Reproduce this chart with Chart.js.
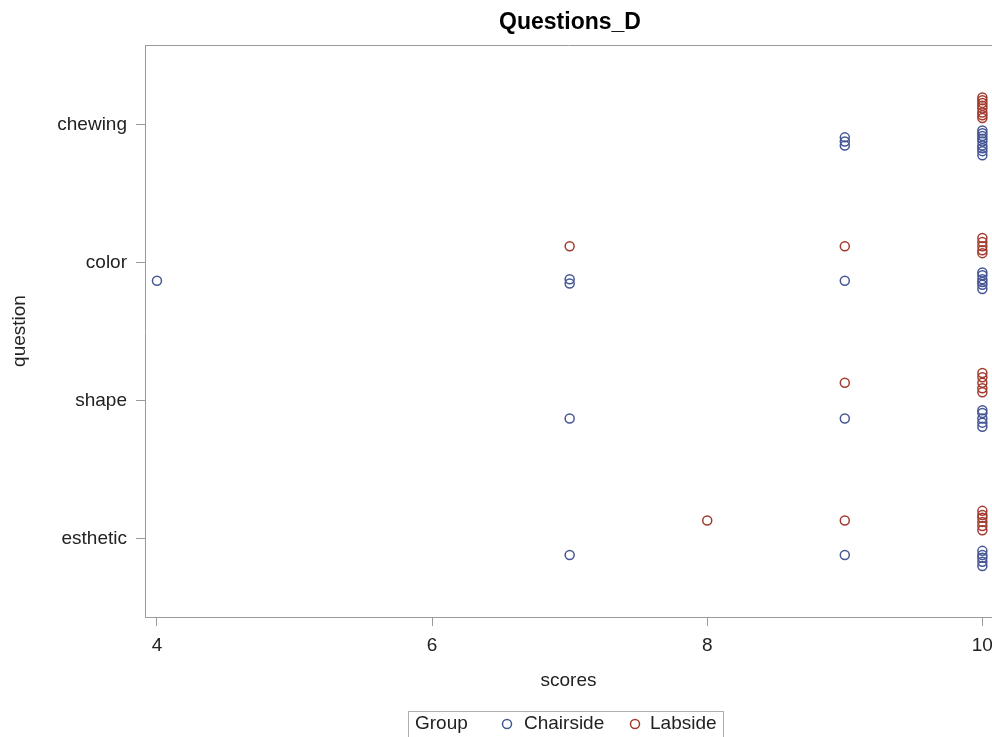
<!DOCTYPE html>
<html>
<head>
<meta charset="utf-8">
<script src="https://cdn.jsdelivr.net/npm/chart.js@4/dist/chart.umd.min.js"></script>
<style>
  html, body { margin: 0; padding: 0; background: #fff; overflow: hidden; }
  #wrap { width: 992px; height: 737px; overflow: hidden; }
</style>
</head>
<body>
<div id="wrap"><canvas id="myCanvas" width="998" height="737"></canvas></div>
<script>
"use strict";

var questions = ['chewing', 'color', 'shape', 'esthetic'];
var scoreTicks = [4, 6, 8, 10];

// Chairside: score, question, vertical jitter (in category units)
var chairScores = [10, 10, 10, 10, 10, 10, 10, 10, 10, 9, 9, 9,
                   4, 7, 7, 9, 10, 10, 10, 10, 10, 10,
                   7, 9, 10, 10, 10, 10, 10,
                   7, 9, 10, 10, 10, 10, 10];
var chairQuestion = ['chewing', 'chewing', 'chewing', 'chewing', 'chewing', 'chewing', 'chewing', 'chewing', 'chewing', 'chewing', 'chewing', 'chewing',
                     'color', 'color', 'color', 'color', 'color', 'color', 'color', 'color', 'color', 'color',
                     'shape', 'shape', 'shape', 'shape', 'shape', 'shape', 'shape',
                     'esthetic', 'esthetic', 'esthetic', 'esthetic', 'esthetic', 'esthetic', 'esthetic'];
var chairJitter = [0.04, 0.06, 0.08, 0.10, 0.12, 0.15, 0.17, 0.19, 0.22, 0.09, 0.12, 0.15,
                   0.13, 0.12, 0.15, 0.13, 0.07, 0.09, 0.12, 0.14, 0.16, 0.19,
                   0.13, 0.13, 0.07, 0.09, 0.13, 0.16, 0.19,
                   0.12, 0.12, 0.09, 0.12, 0.14, 0.17, 0.20];

// Labside
var labScores = [10, 10, 10, 10, 10, 10, 10, 10,
                 7, 9, 10, 10, 10, 10, 10,
                 9, 10, 10, 10, 10, 10,
                 8, 9, 10, 10, 10, 10, 10, 10];
var labQuestion = ['chewing', 'chewing', 'chewing', 'chewing', 'chewing', 'chewing', 'chewing', 'chewing',
                   'color', 'color', 'color', 'color', 'color', 'color', 'color',
                   'shape', 'shape', 'shape', 'shape', 'shape', 'shape',
                   'esthetic', 'esthetic', 'esthetic', 'esthetic', 'esthetic', 'esthetic', 'esthetic', 'esthetic'];
var labJitter = [-0.20, -0.18, -0.16, -0.14, -0.12, -0.09, -0.07, -0.05,
                 -0.12, -0.12, -0.18, -0.15, -0.12, -0.09, -0.07,
                 -0.13, -0.20, -0.17, -0.13, -0.09, -0.06,
                 -0.13, -0.13, -0.20, -0.17, -0.15, -0.12, -0.09, -0.06];

function toPoints(scores, qs, jit) {
    var pts = [];
    for (var i in scores) {
        pts.push({ x: scores[i], y: questions.indexOf(qs[i]) + jit[i] });
    }
    return pts;
}

var FONT = '"Liberation Sans", Arial, sans-serif';
var TEXT = '#222';
var FRAME = '#9a9a9a';

// title, top frame line and the bottom legend box
var extras = {
    id: 'extras',
    afterDraw: function (chart) {
        var ctx = chart.ctx, a = chart.chartArea;
        ctx.save();
        ctx.strokeStyle = FRAME;
        ctx.lineWidth = 1;
        ctx.beginPath();
        ctx.moveTo(a.left, a.top + 0.5);
        ctx.lineTo(a.right, a.top + 0.5);
        ctx.stroke();

        ctx.fillStyle = '#000';
        ctx.font = 'bold 23px ' + FONT;
        ctx.textAlign = 'center';
        ctx.textBaseline = 'middle';
        ctx.fillText('Questions_D', 570, 23);

        // legend
        ctx.strokeStyle = '#b0b0b0';
        ctx.strokeRect(408.5, 711.5, 315, 40);
        ctx.font = '19px ' + FONT;
        ctx.textAlign = 'left';
        ctx.fillStyle = TEXT;
        ctx.fillText('Group', 415, 724);
        var items = [{ x: 507, tx: 524 }, { x: 635, tx: 650 }];
        chart.data.datasets.forEach(function (ds, i) {
            ctx.beginPath();
            ctx.strokeStyle = ds.borderColor;
            ctx.lineWidth = 1.5;
            ctx.arc(items[i].x, 724, 4.5, 0, Math.PI * 2);
            ctx.stroke();
            ctx.fillStyle = TEXT;
            ctx.fillText(ds.label, items[i].tx, 724);
        });
        ctx.restore();
    }
};

var chartdata = {
    datasets: [
        {
            label: 'Chairside',
            data: toPoints(chairScores, chairQuestion, chairJitter),
            borderColor: '#445694',
            backgroundColor: 'rgba(0,0,0,0)',
            pointRadius: 4.5,
            pointBorderWidth: 1.5
        },
        {
            label: 'Labside',
            data: toPoints(labScores, labQuestion, labJitter),
            borderColor: '#a23a2e',
            backgroundColor: 'rgba(0,0,0,0)',
            pointRadius: 4.5,
            pointBorderWidth: 1.5
        }
    ]
};

var ctx = document.getElementById('myCanvas');
var scatter = new Chart(ctx, {
    type: 'scatter',
    data: chartdata,
    plugins: [extras],
    options: {
        responsive: false,
        animation: false,
        layout: { padding: { top: 45, right: 0, left: 0, bottom: 0 } },
        plugins: {
            legend: { display: false },
            title: { display: false },
            tooltip: { enabled: false }
        },
        scales: {
            x: {
                type: 'linear',
                min: 3.913,
                max: 10.07,
                afterBuildTicks: function (scale) {
                    scale.ticks = scoreTicks.map(function (v) { return { value: v }; });
                },
                afterFit: function (scale) {
                    scale.height = 120;
                    scale.paddingLeft = 0;
                    scale.paddingRight = 0;
                },
                grid: { drawOnChartArea: false, drawTicks: true, tickLength: 9, color: FRAME },
                border: { color: FRAME },
                ticks: { padding: 8, color: TEXT, font: { family: FONT, size: 19 } },
                title: {
                    display: true, text: 'scores', color: TEXT,
                    font: { family: FONT, size: 19 },
                    padding: { top: 0, bottom: 45 }
                }
            },
            y: {
                type: 'linear',
                reverse: true,
                min: -0.58,
                max: 3.57,
                afterBuildTicks: function (scale) {
                    scale.ticks = questions.map(function (q, i) { return { value: i }; });
                },
                afterFit: function (scale) { scale.width = 145; },
                grid: { drawOnChartArea: false, drawTicks: true, tickLength: 9, color: FRAME },
                border: { color: FRAME },
                ticks: {
                    padding: 9, color: TEXT, font: { family: FONT, size: 19 },
                    callback: function (v) { return questions[v]; }
                },
                title: {
                    display: true, text: 'question', color: TEXT,
                    font: { family: FONT, size: 19 },
                    padding: { top: 8, bottom: 0 }
                }
            }
        }
    }
});
</script>
</body>
</html>
